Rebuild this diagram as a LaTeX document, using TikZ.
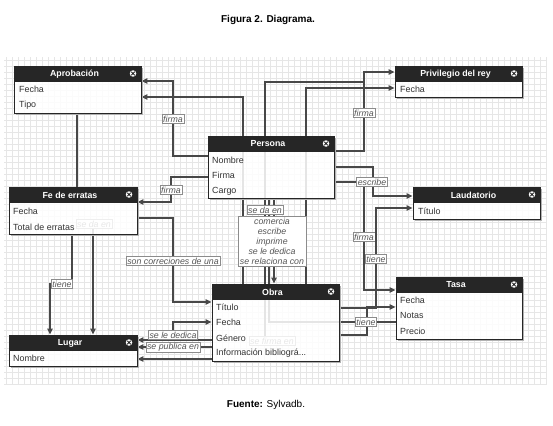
\documentclass[tikz,border=0pt]{standalone}
\usepackage{fontspec}
\setmainfont{Liberation Sans}
\usetikzlibrary{arrows.meta,fit,shapes.misc,calc}
\definecolor{hdrc}{HTML}{262626}
\definecolor{edgec}{HTML}{484848}
\definecolor{gridc}{HTML}{E6E6E6}
\definecolor{rowc}{HTML}{333333}
\definecolor{lblc}{HTML}{555555}
\pgfdeclarelayer{gridlayer}
\pgfdeclarelayer{edgelayer}
\pgfsetlayers{gridlayer,edgelayer,main}
\tikzset{
 gridline/.style={draw=gridc, line width=0.4pt},
 edge/.style={draw=edgec, line width=1.1pt},
 arr/.style={edge, -{Triangle[length=6pt,width=5.5pt]}},
 lbl/.style={fill=white, draw=black!45, line width=0.5pt, inner sep=1.1pt, font=\itshape\fontsize{8.8}{10}\selectfont, text=lblc},
 tbody/.style={fill=white, fill opacity=0.86, draw=black!85, line width=0.9pt, inner sep=0pt},
 thdr/.style={fill=hdrc, draw=black!85, line width=0.9pt, inner sep=0pt},
 htxt/.style={inner sep=0pt, text=white, font=\bfseries\fontsize{8.8}{10}\selectfont},
 rowt/.style={anchor=west, inner sep=0pt, text=rowc, font=\fontsize{8.9}{10}\selectfont},
 closebg/.style={circle, fill=white, inner sep=0pt, minimum size=6.5pt},
 closex/.style={cross out, draw=hdrc, line width=0.9pt, inner sep=0pt, minimum size=2.6pt},
 shade/.style={draw=black!30, line width=1.6pt},
 ttl/.style={font=\bfseries\fontsize{10}{12}\selectfont, text=black},
}
\newcommand{\ertable}[6]{%
  \draw[shade] ({#2+2},{#5+1}) -- ({#4+1},{#5+1}) -- ({#4+1},{#3+2});
  \node[tbody, fit={(#2,#3) (#4,#5)}] (#1) {};
  \node[thdr, fit={(#2,#3) (#4,{#3+15})}] (#1-h) {};
  \node[htxt] (#1-t) at ($(#1-h.center)+(-3,0.5)$) {#6};
  \node[closebg] (#1-cb) at ({#4-8},{#3+7.5}) {};
  \node[closex] (#1-cx) at (#1-cb) {};
}
\begin{document}
\begin{tikzpicture}[x=1pt,y=-1pt]
\useasboundingbox (0,0) rectangle (553,425);
\begin{pgfonlayer}{gridlayer}
\draw[gridline, step=6pt] (4,385) grid (547,57);
\end{pgfonlayer}

\node[ttl] (title) at (268,20) {Figura 2. Diagrama.};
\node[font=\fontsize{10}{12}\selectfont] (src) at (266,405) {\textbf{Fuente:} Sylvadb.};

% tables
\ertable{apro}{14}{66}{141}{113}{Aprobación}
\node[rowt] (apro-r1) at (19,89) {Fecha};
\node[rowt] (apro-r2) at (19,105) {Tipo};

\ertable{priv}{395}{66}{522}{97}{Privilegio del rey}
\node[rowt] (priv-r1) at (400,89) {Fecha};

\ertable{pers}{208}{136}{334}{198}{Persona}
\node[rowt] (pers-r1) at (212,160) {Nombre};
\node[rowt] (pers-r2) at (212,175) {Firma};
\node[rowt] (pers-r3) at (212,191) {Cargo};

\ertable{fe}{9}{187}{137}{234}{Fe de erratas}
\node[rowt] (fe-r1) at (13,211) {Fecha};
\node[rowt] (fe-r2) at (13,227) {Total de erratas};

\ertable{laud}{413}{187}{540}{219}{Laudatorio}
\node[rowt] (laud-r1) at (418,211) {Título};

\ertable{tasa}{396}{277}{522}{339}{Tasa}
\node[rowt] (tasa-r1) at (400,300) {Fecha};
\node[rowt] (tasa-r2) at (400,315) {Notas};
\node[rowt] (tasa-r3) at (400,331) {Precio};

\ertable{obra}{212}{284}{339}{361}{Obra}
\node[rowt] (obra-r1) at (216,307) {Título};
\node[rowt] (obra-r2) at (216,322) {Fecha};
\node[rowt] (obra-r3) at (216,338) {Género};
\node[rowt] (obra-r4) at (216,353) {Información bibliográ...};

\ertable{lugar}{9}{335}{137}{366}{Lugar}
\node[rowt] (lugar-r1) at (13,358) {Nombre};

\begin{pgfonlayer}{edgelayer}
% Persona -> Aprobacion (firma)
\coordinate (e1a) at (173,156);
\coordinate (e1b) at (173,81);
\draw[arr] (pers.west |- e1a) -- (e1a) -- (e1b) -- (apro.east |- e1b);
\node[lbl] (l1) at (173,119) {firma};
% Obra -> Aprobacion
\coordinate (e2a) at (243,97);
\draw[arr] (obra.north -| e2a) -- (e2a) -- (apro.east |- e2a);
% Persona -> Privilegio (firma)
\coordinate (e3a) at (364,151);
\coordinate (e3b) at (364,72);
\draw[arr] (pers.east |- e3a) -- (e3a) -- (e3b) -- (priv.west |- e3b);
\node[lbl] (l3) at (364,113) {firma};
% Obra -> Privilegio (via x 265)
\coordinate (e4s) at (265,341);
\coordinate (e4a) at (265,82);
\draw[edge] (e4s) -- (e4a) -- (e3a |- e4a);
\node[lbl] (l4) at (272,341) {se firma en};
% Obra -> Privilegio Fecha
\coordinate (e5a) at (306,88);
\draw[arr] (obra.north -| e5a) -- (e5a) -- (priv.west |- e5a);
% Persona -> Fe de erratas (firma)
\coordinate (e6a) at (171,177);
\coordinate (e6b) at (171,202);
\draw[arr] (pers.west |- e6a) -- (e6a) -- (e6b) -- (fe.east |- e6b);
\node[lbl] (l6) at (171,190) {firma};
% Aprobacion -- Fe de erratas
\coordinate (e7a) at (77,150);
\draw[edge] (apro.south -| e7a) -- (fe.north -| e7a);
% Fe de erratas -> Lugar (tiene)
\coordinate (e7b) at (72,284);
\coordinate (e7c) at (50,284);
\draw[arr] (fe.south -| e7b) -- (e7b) -- (e7c) -- (lugar.north -| e7c);
\node[lbl] (l7) at (62,284) {tiene};
% Fe de erratas -> Lugar (se da en)
\coordinate (e8a) at (93,224);
\draw[arr] (e8a) -- (lugar.north -| e8a);
\node[lbl] (l8) at (94,224) {se da en};
% Fe de erratas -> Obra
\coordinate (e9a) at (173,218);
\coordinate (e9b) at (173,302);
\draw[arr] (fe.east |- e9a) -- (e9a) -- (e9b) -- (obra.west |- e9b);
\node[lbl] (l9) at (173,261) {son correciones de una};
% Persona -> Laudatorio (escribe)
\coordinate (e10a) at (373,167);
\coordinate (e10b) at (373,196);
\draw[arr] (pers.east |- e10a) -- (e10a) -- (e10b) -- (laud.west |- e10b);
% Persona -> Tasa (firma)
\coordinate (e11a) at (364,182);
\coordinate (e11b) at (364,290);
\draw[arr] (pers.east |- e11a) -- (e11a) -- (e11b) -- (tasa.west |- e11b);
\node[lbl] (l11) at (364,237) {firma};
\node[lbl] (l10) at (372,182) {escribe};
% Obra -> Laudatorio (tiene)
\coordinate (e12a) at (376,308);
\coordinate (e12b) at (376,208);
\draw[arr] (obra.east |- e12a) -- (e12a) -- (e12b) -- (laud.west |- e12b);
\node[lbl] (l12) at (376,259) {tiene};
% Obra -> Tasa
\coordinate (e13a) at (367,335);
\coordinate (e13b) at (367,307);
\draw[arr] (obra.east |- e13a) -- (e13a) -- (e13b) -- (tasa.west |- e13b);
% Persona -- Tasa (tiene)
\coordinate (e14a) at (269,322);
\draw[edge] (pers.south -| e14a) -- (e14a) -- (tasa.west |- e14a);
\node[lbl] (l14) at (366,322) {tiene};
% Persona -> Obra
\coordinate (e15a) at (274,240);
\draw[arr] (pers.south -| e15a) -- (obra.north -| e15a);
\node[lbl] (l15a) at (265,210) {se da en};
\node[lbl, align=center, inner sep=2pt] (l15b) at (272,241) {comercia\\escribe\\imprime\\se le dedica\\se relaciona con};
% Obra -> Lugar
\coordinate (e16a) at (173,340);
\coordinate (e16b) at (173,322);
\draw[arr] (obra.west |- e16a) -- (lugar.east |- e16a);
\draw[arr] (e16a) -- (e16b) -- (obra.west |- e16b);
\node[lbl] (l16) at (173,335) {se le dedica};
\coordinate (e17a) at (173,347);
\draw[arr] (obra.west |- e17a) -- (lugar.east |- e17a);
\node[lbl] (l17) at (173,347) {se publica en};
\coordinate (e18a) at (173,359);
\draw[arr] (obra.west |- e18a) -- (lugar.east |- e18a);
\end{pgfonlayer}
\end{tikzpicture}
\end{document}
